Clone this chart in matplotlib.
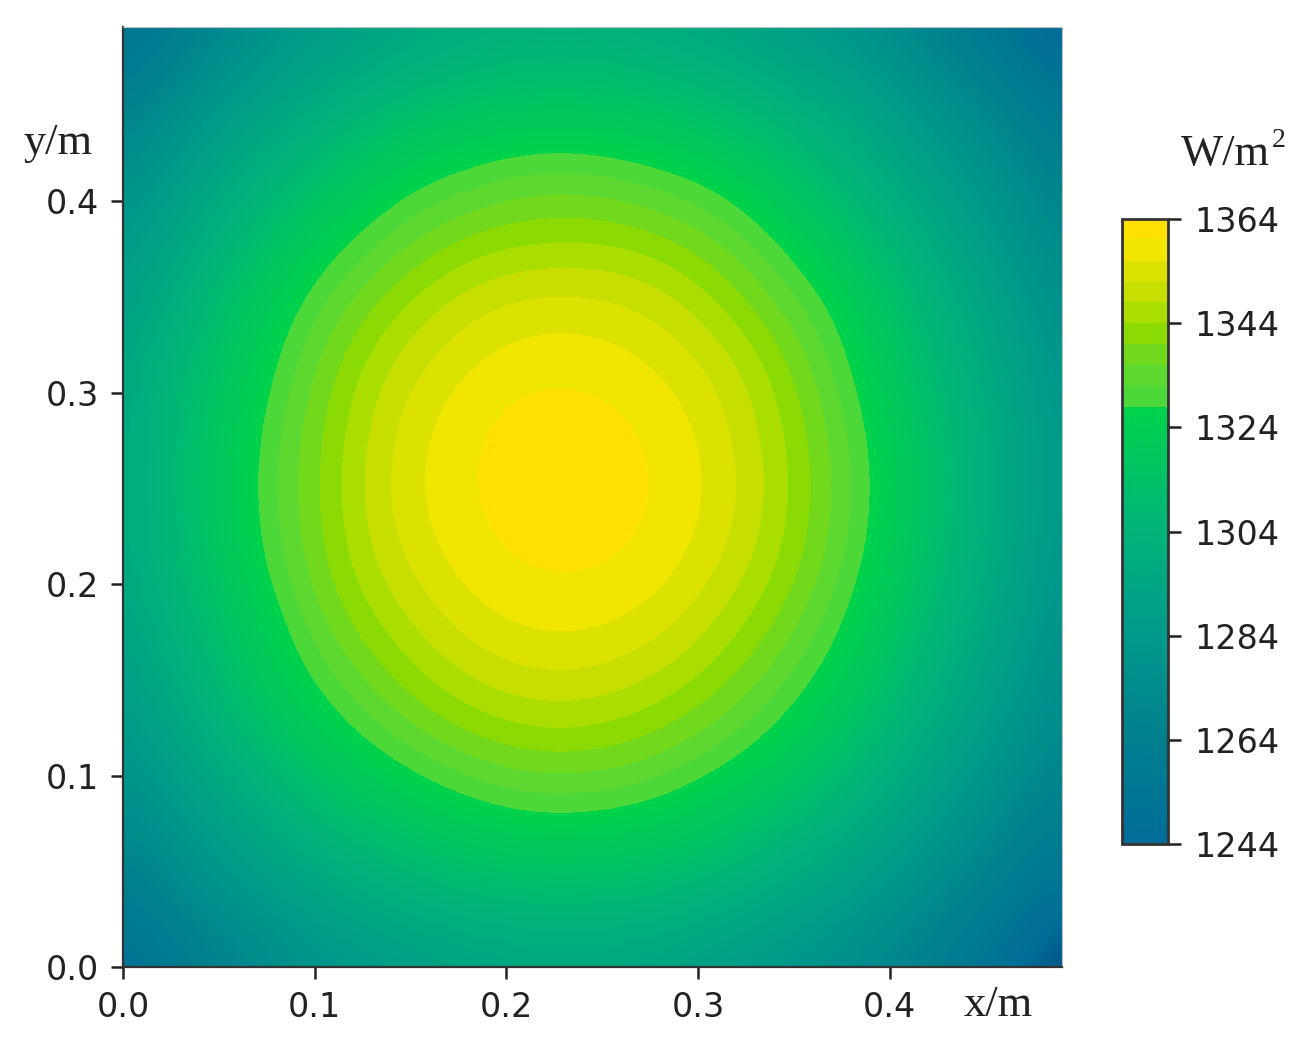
import matplotlib
matplotlib.use('Agg')
import matplotlib.pyplot as plt
import numpy as np
from matplotlib.colors import BoundaryNorm, LinearSegmentedColormap, ListedColormap

# irradiance, rows go from y=0 to y=0.49
x_grid = [0, .035, .07, .105, .14, .175, .21, .245, .28, .315, .35, .385, .42, .455, .49]
y_grid = [0, .035, .07, .105, .14, .175, .21, .245, .28, .315, .35, .385, .42, .455, .49]
irradiance = [
    [1246, 1260, 1272, 1280, 1286, 1291, 1293.5, 1294, 1292, 1287, 1281, 1273, 1264, 1250, 1232],
    [1259, 1273.5, 1283, 1293, 1300, 1305, 1308, 1308, 1306, 1301, 1294, 1285, 1274, 1262, 1247],
    [1271, 1283, 1295, 1305, 1314, 1320, 1324, 1324, 1321, 1315, 1306, 1297, 1285, 1272, 1260],
    [1279, 1292, 1305, 1319, 1327, 1334, 1338, 1338, 1335, 1328, 1320, 1307, 1294, 1281, 1268],
    [1286, 1300, 1317, 1328, 1338, 1345, 1349, 1349, 1345, 1339, 1329, 1318, 1302, 1288, 1274],
    [1291, 1306, 1321, 1336, 1345, 1353, 1356.5, 1356.5, 1353.5, 1346, 1337, 1324, 1308, 1293, 1278],
    [1295, 1310, 1327, 1340, 1351, 1357.5, 1361, 1361.5, 1358.5, 1352, 1342, 1329, 1313, 1297, 1281],
    [1296, 1311, 1329, 1341, 1353.5, 1359.5, 1364, 1364, 1360.5, 1354.5, 1344, 1331, 1315, 1298, 1282],
    [1295.5, 1311, 1328, 1340.5, 1352.5, 1359, 1363.5, 1363.5, 1359.5, 1353.5, 1343, 1330, 1314, 1298, 1282],
    [1293, 1309, 1324, 1338, 1349, 1355.5, 1359, 1359, 1356, 1350.5, 1340, 1326, 1310, 1295, 1280],
    [1288, 1303, 1320, 1332, 1342, 1349.5, 1353, 1353, 1350.5, 1343, 1333, 1322, 1305, 1291, 1276],
    [1282, 1296, 1309, 1323.5, 1332, 1339, 1342, 1342.5, 1340, 1334, 1324.5, 1311, 1298, 1284, 1270],
    [1275, 1287, 1300, 1310, 1322, 1327, 1331, 1331, 1327.5, 1323, 1312, 1301, 1289, 1277, 1264],
    [1262, 1278, 1288, 1298, 1306, 1312, 1315, 1315, 1312, 1307, 1300, 1292, 1279, 1269, 1252],
    [1250, 1264, 1278, 1286, 1293, 1298, 1301, 1301, 1298, 1294, 1286, 1279, 1269, 1254, 1241],
]

# stepped part of the colour bar, bottom to top
band_edges = [1328, 1332, 1336, 1340, 1344, 1348, 1352, 1356, 1360.4, 1366]
band_colors = ['#4cd838', '#5cd830', '#72d81c', '#8cda04', '#aade00', '#c6de00',
               '#dce200', '#f0e600', '#ffe000']
# smooth part of the colour bar, the first two colours only show in the corners
ramp_colors = ['#3f5a96', '#005a8e', '#006d98', '#00808f', '#009a8a', '#00b47a', '#00d24c']
ramp_values = [1230, 1238, 1244, 1264, 1284, 1304, 1327]
cbar_ticks = [1244, 1264, 1284, 1304, 1324, 1344, 1364]
x_ticks = [0.0, 0.1, 0.2, 0.3, 0.4]
y_ticks = [0.0, 0.1, 0.2, 0.3, 0.4]

W, H = 1306, 1037
fig = plt.figure(figsize=(W / 100, H / 100), dpi=100)
ax = fig.add_axes([123 / W, 1 - 967 / H, (1062 - 123) / W, (967 - 27) / H])
cax = fig.add_axes([1122 / W, 1 - 844 / H, (1168 - 1122) / W, (844 - 219) / H])

ramp_edges = list(range(1230, 1328))
anchors = [(v - ramp_values[0]) / (ramp_values[-1] - ramp_values[0]) for v in ramp_values]
ramp_map = LinearSegmentedColormap.from_list('ramp', list(zip(anchors, ramp_colors)))
ramp = ramp_map(np.linspace(0, 1, len(ramp_edges)))
levels = ramp_edges + band_edges
cmap = ListedColormap(list(ramp) + band_colors)
norm = BoundaryNorm(levels, cmap.N)

dx = x_grid[1] - x_grid[0]
dy = y_grid[1] - y_grid[0]
im = ax.imshow(irradiance, origin='lower', cmap=cmap, norm=norm, aspect='auto',
               interpolation='bicubic', interpolation_stage='data',
               extent=(x_grid[0] - dx / 2, x_grid[-1] + dx / 2, y_grid[0] - dy / 2, y_grid[-1] + dy / 2))
ax.set_xlim(0, 0.49)
ax.set_ylim(0, 0.491)
ax.set_xticks(x_ticks)
ax.set_yticks(y_ticks)
ax.tick_params(labelsize=24, length=8.5, width=1.8, pad=9, colors='#222222')
for side in ['top', 'right']:
    ax.spines[side].set_color('#b8c0c8')
for side in ['left', 'bottom']:
    ax.spines[side].set_linewidth(1.6)
    ax.spines[side].set_color('#333333')

cb = fig.colorbar(im, cax=cax, spacing='proportional', ticks=cbar_ticks)
cb.ax.set_ylim(1244, 1364)
cb.ax.tick_params(labelsize=24, length=9, width=1.8, pad=10, colors='#222222')
cb.ax.minorticks_off()
cb.outline.set_linewidth(2)
cb.outline.set_edgecolor('#333333')
cb.ax.set_yticklabels([str(t) for t in cbar_ticks])

serif = 'Liberation Serif'
fig.text(23 / W, 1 - 154 / H, 'y/m', family=serif, fontsize=32, color='#222222')
fig.text(964 / W, 1 - 1016 / H, 'x/m', family=serif, fontsize=32, color='#222222')
fig.text(1181 / W, 1 - 165 / H, 'W/m', family=serif, fontsize=32, color='#222222')
fig.text(1272 / W, 1 - 147 / H, '2', family=serif, fontsize=20, color='#222222')

plt.savefig('out.png', dpi=100)
